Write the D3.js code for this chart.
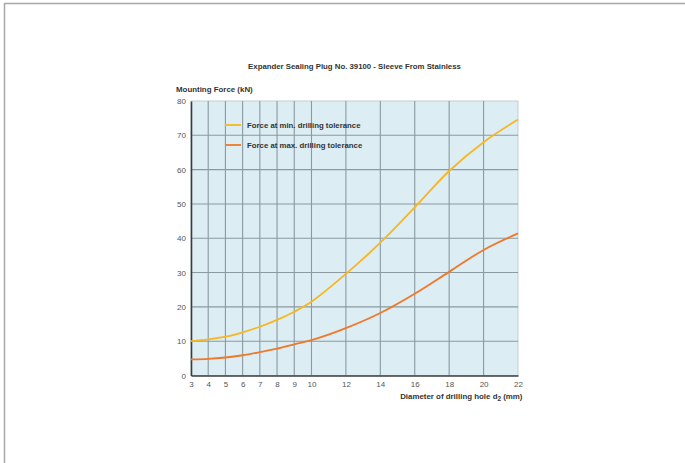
<!DOCTYPE html>
<html><head><meta charset="utf-8">
<script src="https://cdn.jsdelivr.net/npm/d3@7"></script>
<style>body{margin:0;background:#fff}svg{display:block}text{font-family:"Liberation Sans",Arial,sans-serif}</style>
</head><body><svg id="c" width="685" height="463"></svg>
<script>
const xDiam = [3,4,5,6,7,8,9,10,12,14,16,18,20,22];
const forceMin = [10,10.5,11.3,12.6,14.2,16.2,18.6,21.5,29.6,38.7,49,59.6,68,74.6];
const forceMax = [4.7,4.85,5.25,5.9,6.8,7.8,9.1,10.3,13.8,18.2,23.8,30.2,36.6,41.4];
const xTicks = [3,4,5,6,7,8,9,10,12,14,16,18,20,22];
const yTicks = [0,10,20,30,40,50,60,70,80];
const seriesNames = ["Force at min. drilling tolerance","Force at max. drilling tolerance"];
const seriesColors = ["#f8b620","#f07828"];
const title = "Expander Sealing Plug No. 39100 - Sleeve From Stainless";

const svg = d3.select("#c");
// frame
svg.append("path").attr("d","M4.5,463 L4.5,3.5 L685,3.5").attr("fill","none").attr("stroke","#a8a8a8").attr("stroke-width",1.5);

const x = d3.scaleLinear().domain([3,22]).range([191,518]);
const y = d3.scaleLinear().domain([0,80]).range([375.5,101]);

svg.append("rect").attr("x",x(3)).attr("y",y(80)).attr("width",x(22)-x(3)).attr("height",y(0)-y(80)).attr("fill","#dcedf3").attr("stroke","#c3cfd3").attr("stroke-width",1);

const g = svg.append("g");
g.selectAll("line.vx").data(xTicks.slice(1,-1)).join("line")
 .attr("x1",d=>x(d)).attr("x2",d=>x(d)).attr("y1",y(80)).attr("y2",y(0))
 .attr("stroke","#8a9aa0").attr("stroke-width",1.1);
g.selectAll("line.hy").data(yTicks.slice(1,-1)).join("line")
 .attr("x1",x(3)).attr("x2",x(22)).attr("y1",d=>y(d)).attr("y2",d=>y(d))
 .attr("stroke","#8a9aa0").attr("stroke-width",1.1);

// axes
const xa = svg.append("g").attr("transform",`translate(0,${y(0)})`).call(d3.axisBottom(x).tickValues(xTicks).tickSize(0).tickPadding(6));
const ya = svg.append("g").attr("transform",`translate(${x(3)},0)`).call(d3.axisLeft(y).tickValues(yTicks).tickSize(0).tickPadding(5));
[xa,ya].forEach(a=>{a.select(".domain").attr("stroke","#3c3c3c").attr("stroke-width",1.6);
 a.selectAll("text").attr("fill","#555").style("font-size","8px");});
ya.selectAll("text").attr("dy","0.32em");

// curves
const line = d3.line().x((d,i)=>x(xDiam[i])).y(d=>y(d)).curve(d3.curveCatmullRom.alpha(0.5));
[forceMin,forceMax].forEach((s,i)=>{
 svg.append("path").attr("d",line(s)).attr("fill","none").attr("stroke",seriesColors[i]).attr("stroke-width",1.8);
});

// legend
seriesNames.forEach((n,i)=>{
 const ly = 125 + i*20;
 svg.append("line").attr("x1",225).attr("x2",241).attr("y1",ly).attr("y2",ly).attr("stroke",seriesColors[i]).attr("stroke-width",1.8);
 svg.append("text").attr("x",247).attr("y",ly).attr("dy","0.35em").attr("font-weight","bold").attr("fill","#333").style("font-size","7.8px").text(n);
});

// titles
svg.append("text").attr("x",354.5).attr("y",69).attr("text-anchor","middle").attr("font-weight","bold").attr("fill","#333").style("font-size","7.8px").text(title);
svg.append("text").attr("x",176).attr("y",92).attr("font-weight","bold").attr("fill","#333").style("font-size","7.9px").text("Mounting Force (kN)");
const xt = svg.append("text").attr("x",522.5).attr("y",399).attr("text-anchor","end").attr("font-weight","bold").attr("fill","#333").style("font-size","7.9px");
xt.append("tspan").text("Diameter of drilling hole d");
xt.append("tspan").attr("dy",2).style("font-size","6.4px").text("2");
xt.append("tspan").attr("dy",-2).text(" (mm)");
</script></body></html>
